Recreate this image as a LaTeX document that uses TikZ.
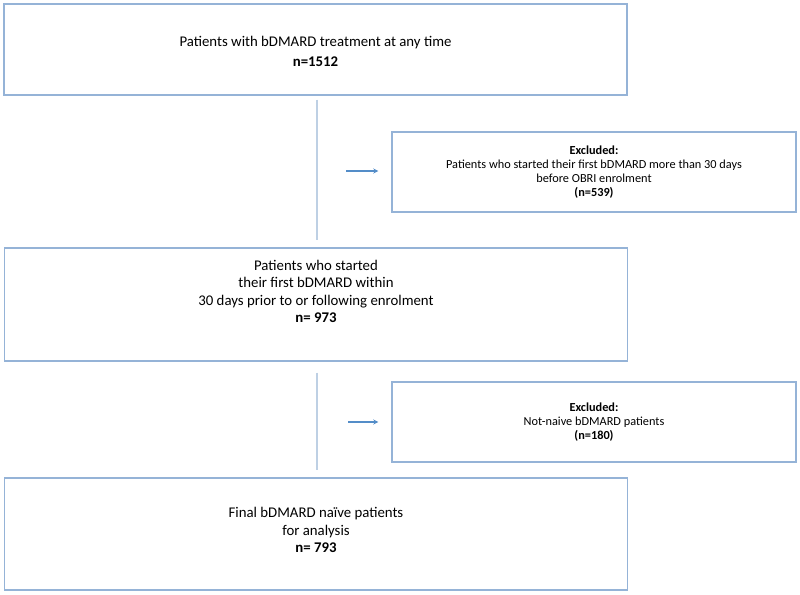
\documentclass[tikz,border=0pt]{standalone}
\usepackage{fontspec}
\setmainfont{Carlito}
\usepackage{tikz}
\usetikzlibrary{arrows,shapes,positioning,calc}
\usepackage{xcolor}
\definecolor{fcborder}{RGB}{149,179,215}
\definecolor{fcline}{RGB}{190,208,228}
\definecolor{fcarrow}{RGB}{84,141,200}
\tikzstyle{mainbox} = [rectangle,draw=fcborder,line width=1.4pt,minimum width=623pt,inner sep=0pt]
\tikzstyle{exbox} = [rectangle,draw=fcborder,line width=1.4pt,minimum width=404pt,minimum height=80pt,align=center,font=\fontsize{12.3}{14}\selectfont]
\tikzstyle{boxtext} = [align=center,font=\fontsize{14.8}{17.6}\selectfont]
\tikzstyle{flow} = [line width=1.2pt,color=fcline]
\tikzstyle{arrow} = [line width=1.2pt,->,>=stealth,color=fcarrow]

\begin{document}
\begin{tikzpicture}[x=1pt,y=-1pt]
\useasboundingbox (0,0) rectangle (800,594);
% Boxes of the main flow
\node[mainbox, minimum height=91pt] (all) at (315.5,49.5) {};
\node[boxtext] (alltext) at ([yshift=-2pt]all.center) {Patients with bDMARD treatment at any time\\[2pt]\textbf{n=1512}};
\node[mainbox, minimum height=113pt] (first) at (316,304.5) {};
\node[boxtext] (firsttext) at ([yshift=13pt]first.center) {Patients who started\\their first bDMARD within\\30 days prior to or following enrolment\\\textbf{n= 973}};
\node[mainbox, minimum height=112pt] (final) at (316,534) {};
\node[boxtext] (finaltext) at ([yshift=4pt]final.center) {Final bDMARD na\"ive patients\\for analysis\\\textbf{n= 793}};

% Excluded boxes
\node[exbox] (ex1) at (594,172) {\textbf{Excluded:}\\Patients who started their first bDMARD more than 30 days\\before OBRI enrolment\\\textbf{(n=539)}};
\node[exbox] (ex2) at (594,422) {\textbf{Excluded:}\\Not-naive bDMARD patients\\\textbf{(n=180)}};

% Connectors
\draw[flow, shorten <=4pt, shorten >=7pt] ([xshift=1.5pt]all.south) -- ([xshift=1pt]first.north);
\draw[flow, shorten <=11pt, shorten >=7pt] ([xshift=1pt]first.south) -- ([xshift=1pt]final.north);
\coordinate (a1) at (346,171);
\coordinate (a2) at (348,422);
\draw[arrow, shorten >=13pt] (a1) -- (a1 -| ex1.west);
\draw[arrow, shorten >=13pt] (a2) -- (a2 -| ex2.west);
\end{tikzpicture}
\end{document}
